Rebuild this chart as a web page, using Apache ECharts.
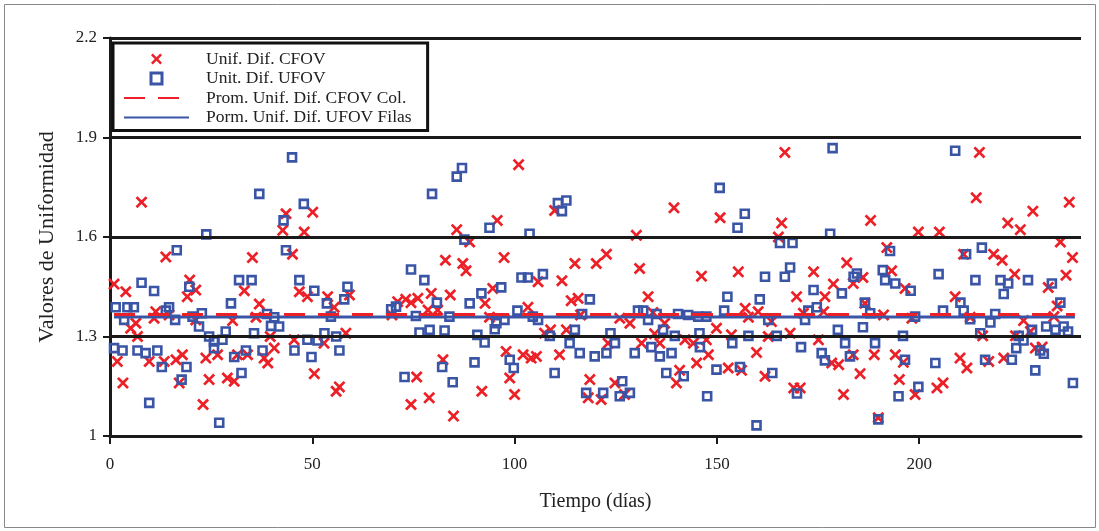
<!DOCTYPE html>
<html><head><meta charset="utf-8">
<script src="https://cdn.jsdelivr.net/npm/echarts@6/dist/echarts.min.js"></script>
<style>html,body{margin:0;padding:0;background:#fff}#c{width:1099px;height:531px}</style>
</head><body><div id="c"></div><script>
// ---- data ----
const cfovData = [
[1.0,1.458],[1.8,1.225],[3.2,1.16],[3.9,1.435],[5.1,1.325],[6.4,1.34],[6.8,1.30],[7.8,1.705],[9.7,1.225],[10.9,1.355],[11.3,1.375],[13.4,1.225],[13.8,1.54],[14.6,1.365],[16.3,1.23],[17.1,1.16],[17.9,1.245],[19.1,1.42],[19.7,1.47],[21.2,1.44],[21.2,1.35],[23.0,1.095],[23.7,1.235],[24.5,1.17],[26.6,1.245],
[29.0,1.175],[30.3,1.348],[30.7,1.165],[31.5,1.245],[33.2,1.438],[34.0,1.245],[35.2,1.538],[36.1,1.358],[36.9,1.398],[38.1,1.235],[39.0,1.22],[39.6,1.30],[40.6,1.265],[42.7,1.62],[43.5,1.67],[45.1,1.548],[45.5,1.29],[46.8,1.435],[48.0,1.615],[48.8,1.42],[50.1,1.675],[50.5,1.188],[52.9,1.28],[53.8,1.42],[55.4,1.388],[55.9,1.135],[56.7,1.148],[58.3,1.31],[59.2,1.425],
[69.7,1.365],[71.1,1.405],[73.1,1.412],[74.4,1.402],[74.4,1.095],[75.8,1.178],[76.1,1.415],[78.6,1.38],[78.9,1.115],[79.4,1.43],[81.0,1.38],[82.3,1.23],[82.9,1.53],[84.1,1.425],[84.9,1.06],[85.7,1.622],[87.2,1.52],[88.0,1.498],[88.9,1.585],
[91.9,1.135],[92.7,1.40],[93.8,1.358],[94.6,1.445],[95.7,1.65],[97.4,1.538],[97.9,1.255],[98.8,1.175],[100.0,1.125],[101.0,1.818],[102.1,1.245],[103.3,1.388],[104.1,1.235],[105.4,1.24],[105.8,1.465],[107.4,1.31],[108.9,1.32],[109.9,1.68],[111.1,1.245],[111.7,1.468],[112.8,1.32],[114.0,1.408],[114.9,1.52],[115.7,1.415],[116.3,1.365],[118.2,1.115],[118.6,1.17],[120.2,1.52],[121.4,1.11],[122.7,1.548],[123.1,1.28],
[124.8,1.16],[126.0,1.355],[127.2,1.125],[128.5,1.34],[130.1,1.605],[130.9,1.505],[131.4,1.28],[133.0,1.42],[134.2,1.372],[134.6,1.308],[135.9,1.28],[137.1,1.34],[139.4,1.688],[140.0,1.16],[140.8,1.198],[142.1,1.29],[144.2,1.28],[145.0,1.22],[146.2,1.482],[147.4,1.29],[147.9,1.245],[149.9,1.325],[150.8,1.658],
[152.8,1.205],[153.6,1.305],[155.3,1.495],[156.1,1.198],[157.0,1.385],[157.8,1.358],[159.8,1.252],[160.2,1.375],[161.9,1.18],[162.7,1.30],[163.5,1.345],[165.2,1.60],[166.0,1.642],[166.8,1.855],[168.1,1.31],[169.0,1.145],[169.7,1.42],[170.6,1.145],[171.4,1.37],[173.9,1.495],[175.1,1.29],[176.4,1.375],[176.7,1.42],[178.4,1.22],[178.8,1.458],[180.1,1.215],[181.3,1.125],[182.1,1.522],[183.7,1.46],[183.7,1.245],
[185.4,1.188],[186.1,1.478],[186.6,1.40],[188.0,1.65],[188.9,1.245],[189.9,1.055],[191.2,1.365],[192.0,1.568],[193.2,1.498],[194.1,1.245],[195.1,1.17],[196.1,1.222],[196.5,1.445],[198.2,1.355],[199.0,1.125],[199.8,1.615],[204.4,1.145],[205.0,1.615],[205.9,1.16],[208.9,1.42],[210.1,1.235],[211.0,1.548],[211.8,1.205],[212.6,1.358],[214.1,1.718],[214.9,1.855],
[215.7,1.302],[217.2,1.225],[218.4,1.548],[220.5,1.53],[220.9,1.235],[221.9,1.642],[223.6,1.488],[223.8,1.302],[225.0,1.622],[225.8,1.348],[227.5,1.315],[228.1,1.678],[228.7,1.265],[230.4,1.268],[231.9,1.448],[233.3,1.36],[234.1,1.392],[234.9,1.585],[236.3,1.485],[237.1,1.705],[237.9,1.538]
];
const ufovData = [
[1.0,1.265],[1.4,1.388],[3.1,1.258],[3.5,1.35],[4.3,1.388],[5.9,1.388],[6.8,1.258],[7.8,1.462],[8.8,1.25],[9.7,1.10],[10.9,1.437],[11.7,1.258],[12.8,1.208],[13.8,1.378],[14.6,1.388],[16.1,1.35],[16.5,1.56],[17.7,1.17],[18.9,1.208],[19.6,1.45],[20.4,1.36],[22.0,1.33],[22.7,1.37],[23.8,1.608],[24.5,1.30],[25.7,1.285],[25.7,1.265],[27.0,1.04],[27.8,1.29],
[28.6,1.315],[29.9,1.40],[30.7,1.238],[31.9,1.47],[32.5,1.19],[33.6,1.258],[35.0,1.47],[35.6,1.31],[36.9,1.73],[37.7,1.258],[38.8,1.368],[39.8,1.332],[40.6,1.358],[41.8,1.33],[42.9,1.65],[43.5,1.56],[45.0,1.84],[45.6,1.258],[46.8,1.47],[47.9,1.70],[48.8,1.29],[49.8,1.238],[50.5,1.438],[51.3,1.288],[53.0,1.31],[53.6,1.40],[54.6,1.36],[55.9,1.30],[56.7,1.258],[57.9,1.412],[58.7,1.45],
[69.5,1.382],[70.7,1.39],[72.8,1.178],[74.4,1.502],[75.6,1.362],[76.5,1.312],[77.7,1.47],[79.0,1.32],[79.6,1.73],[80.8,1.402],[82.1,1.208],[82.7,1.318],[83.9,1.36],[84.7,1.162],[85.7,1.782],[87.0,1.808],[87.6,1.592],[88.9,1.40],[90.1,1.222],
[90.8,1.305],[91.8,1.43],[92.6,1.282],[93.8,1.628],[95.1,1.322],[95.5,1.34],[96.7,1.448],[97.5,1.35],[98.8,1.23],[99.8,1.205],[100.7,1.378],[101.7,1.478],[103.3,1.478],[103.7,1.61],[104.5,1.36],[105.8,1.35],[107.0,1.488],[108.7,1.302],[109.9,1.19],[110.7,1.702],[111.7,1.678],[112.8,1.71],[113.6,1.28],[114.9,1.32],[116.1,1.25],[116.7,1.368],[117.7,1.13],[118.6,1.412],[119.8,1.24],
[121.9,1.13],[122.7,1.25],[123.7,1.31],[124.8,1.28],[126.0,1.12],[126.6,1.165],[128.5,1.13],[129.7,1.25],[130.5,1.378],[131.8,1.378],[133.0,1.35],[133.8,1.268],[135.1,1.368],[135.9,1.24],[136.7,1.32],[137.5,1.19],[138.8,1.25],[139.6,1.302],[140.4,1.368],[141.8,1.18],[142.9,1.365],[145.4,1.36],[145.7,1.31],[145.8,1.268],[147.4,1.36],[147.6,1.12],[149.9,1.20],[150.7,1.748],[151.8,1.378],[152.6,1.42],
[153.8,1.28],[155.1,1.628],[155.7,1.208],[156.9,1.67],[157.8,1.302],[159.8,1.032],[160.6,1.412],[161.9,1.48],[162.7,1.35],[163.7,1.19],[164.8,1.302],[165.6,1.582],[166.8,1.48],[168.1,1.508],[168.7,1.582],[169.8,1.128],[170.8,1.268],[171.8,1.35],[172.6,1.378],[173.9,1.44],[174.7,1.388],[175.9,1.25],[176.7,1.228],[178.0,1.61],[178.6,1.868],[179.9,1.32],[180.9,1.43],[181.7,1.28],[182.9,1.24],[183.8,1.48],[184.6,1.49],
[186.1,1.328],[186.6,1.402],[187.9,1.37],[189.1,1.28],[189.9,1.05],[191.0,1.50],[191.6,1.47],[192.8,1.558],[194.1,1.46],[194.9,1.12],[196.0,1.302],[196.5,1.23],[197.9,1.438],[199.0,1.36],[199.8,1.148],[204.0,1.22],[204.8,1.488],[205.9,1.378],[208.9,1.86],[210.2,1.402],[211.0,1.378],[211.6,1.548],[212.6,1.352],[213.9,1.47],[215.1,1.31],[215.5,1.568],[216.3,1.23],
[217.6,1.342],[218.8,1.368],[220.1,1.47],[220.9,1.428],[222.0,1.46],[222.9,1.23],[224.0,1.265],[224.6,1.302],[225.8,1.288],[226.9,1.47],[227.9,1.32],[228.7,1.198],[229.9,1.258],[230.8,1.248],[231.4,1.33],[232.8,1.46],[233.7,1.32],[234.9,1.402],[235.7,1.33],[236.8,1.315],[238.0,1.16]
];
const meanCfov = 1.366;
const meanUfov = 1.359;
const meanRange = [1, 238.5];
const xTicks = [0, 50, 100, 150, 200];
const yTicks = [1, 1.3, 1.6, 1.9, 2.2];
const gridValues = [1.3, 1.6, 1.9, 2.2];
const names = ['Unif. Dif. CFOV', 'Unit. Dif. UFOV', 'Prom. Unif. Dif. CFOV Col.', 'Porm. Unif. Dif. UFOV Filas'];

const RED = '#ec2027', BLUE = '#3a55a6', INK = '#1a1a1a';
const FONT = 'Liberation Serif';
const xPath = 'path://M1.6,0 L5,3.4 L8.4,0 L10,1.6 L6.6,5 L10,8.4 L8.4,10 L5,6.6 L1.6,10 L0,8.4 L3.4,5 L0,1.6 Z';
const sqPath = 'path://M0,0 L10,0 L10,10 L0,10 Z';

const chart = echarts.init(document.getElementById('c'), null, {renderer: 'canvas'});
chart.setOption({
  animation: false,
  backgroundColor: '#fff',
  grid: {left: 110, right: 18, top: 38, bottom: 95, containLabel: false},
  xAxis: {
    type: 'value', min: 0, max: 240,
    name: 'Tiempo (días)', nameLocation: 'middle', nameGap: 56,
    nameTextStyle: {fontFamily: FONT, fontSize: 20, color: '#222'},
    axisLine: {show: true, onZero: false, lineStyle: {color: INK, width: 3}},
    axisTick: {show: true, customValues: xTicks, length: 8, lineStyle: {color: INK, width: 2}},
    axisLabel: {customValues: xTicks, margin: 20, fontFamily: FONT, fontSize: 17, color: '#222'},
    splitLine: {show: false}
  },
  yAxis: {
    type: 'value', min: 1, max: 2.2,
    name: 'Valores de Uniformidad', nameLocation: 'middle', nameGap: 52,
    nameTextStyle: {fontFamily: FONT, fontSize: 22, color: '#222'},
    axisLine: {show: true, lineStyle: {color: INK, width: 3}},
    axisTick: {show: true, customValues: yTicks, length: 7, lineStyle: {color: INK, width: 2}},
    axisLabel: {customValues: yTicks, margin: 13, fontFamily: FONT, fontSize: 17, color: '#222',
      formatter: v => String(+(+v).toFixed(1))},
    splitLine: {show: false}
  },
  legend: {
    orient: 'vertical', left: 113, top: 43,
    padding: [7, 16, 4, 10], itemGap: 1.5, itemWidth: 65, itemHeight: 11,
    borderColor: '#111', borderWidth: 3, backgroundColor: '#fff',
    textStyle: {fontFamily: FONT, fontSize: 17.5, color: '#222', padding: [0, 0, 0, 12]},
    data: [
      {name: names[0], icon: xPath},
      {name: names[1], icon: sqPath, itemStyle: {borderWidth: 3}},
      {name: names[2], itemStyle: {opacity: 0}},
      {name: names[3], itemStyle: {opacity: 0}}
    ]
  },
  graphic: [{
    type: 'rect', silent: true, z: -10,
    shape: {x: 4.5, y: 4.5, width: 1091, height: 523},
    style: {fill: 'none', stroke: '#888', lineWidth: 1}
  }],
  series: [
    {
      name: 'grid', type: 'line', data: [], silent: true, z: 1,
      markLine: {
        silent: true, symbol: 'none', label: {show: false}, animation: false,
        lineStyle: {color: INK, width: 3, type: 'solid'},
        data: gridValues.map(v => ({yAxis: v}))
      }
    },
    {
      name: names[0], type: 'scatter', data: cfovData, symbol: xPath, symbolSize: 12, z: 3,
      itemStyle: {color: RED, opacity: 1}
    },
    {
      name: names[1], type: 'scatter', data: ufovData, symbol: sqPath, symbolSize: 8, z: 3,
      itemStyle: {color: 'rgba(255,255,255,0)', borderColor: BLUE, borderWidth: 2.6, opacity: 1}
    },
    {
      name: names[3], type: 'line', data: meanRange.map(d => [d, meanUfov]), symbol: 'none', z: 4,
      lineStyle: {color: BLUE, width: 3}, itemStyle: {color: BLUE}
    },
    {
      name: names[2], type: 'line', data: meanRange.map(d => [d, meanCfov]), symbol: 'none', z: 5,
      lineStyle: {color: RED, width: 3, type: [21, 13]}, itemStyle: {color: RED}
    }
  ]
});
</script></body></html>
